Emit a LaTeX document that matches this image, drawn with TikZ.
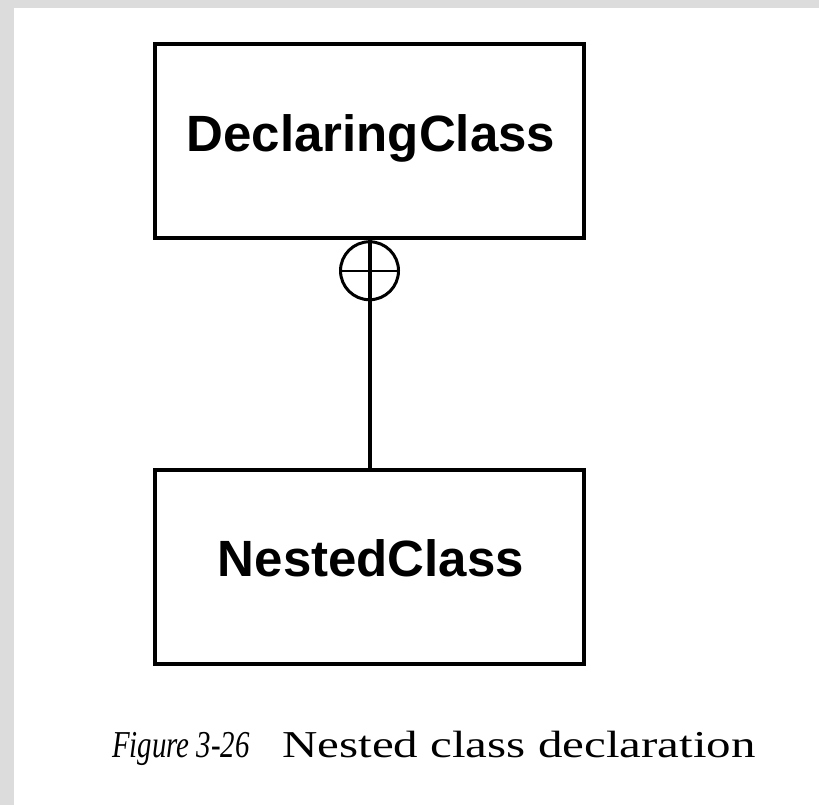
\documentclass[tikz,border=0pt]{standalone}
\usepackage{fontspec}
\setmainfont{Liberation Serif}
\newfontfamily\boxfont{Liberation Sans}
\begin{document}
\begin{tikzpicture}[x=1bp,y=-1bp,
  classbox/.style={draw=black, line width=4.5bp, minimum width=429bp, minimum height=194bp, inner sep=0pt},
  boxlabel/.style={inner sep=0pt, font=\boxfont\bfseries\fontsize{51bp}{60bp}\selectfont},
  nestmark/.style={circle, draw=black, line width=3bp, minimum size=58bp, inner sep=0pt},
  conn/.style={line width=4bp},
  captionstyle/.style={inner sep=0pt, anchor=base west, font=\fontsize{38bp}{44bp}\selectfont}]
  \useasboundingbox (0,0) rectangle (819,805);
  \fill[fill={rgb,255:red,220;green,220;blue,220}] (0,0) rectangle (819,805);
  \fill[white] (14,8) rectangle (819,805);
  \node[classbox] (decl) at (369.5,141) {};
  \node[classbox] (nested) at (369.5,567) {};
  \node[boxlabel] (decllabel) at (371,138) {DeclaringClass};
  \node[boxlabel] (nestedlabel) at (371,558) {NestedClass};
  \node[nestmark, anchor=north] (mark) at (decl.south) {};
  \draw[line width=2.5bp] (mark.west) -- (mark.east);
  \draw[conn] (mark.north) -- (mark.south);
  \draw[conn] (mark.south) -- (nested.north);
  \node[captionstyle] (cap) at (112,757) {\scalebox{0.76}[1]{\textit{Figure 3-26}}\hspace{0.85em}\scalebox{1.29}[1]{Nested class declaration}};
\end{tikzpicture}
\end{document}
